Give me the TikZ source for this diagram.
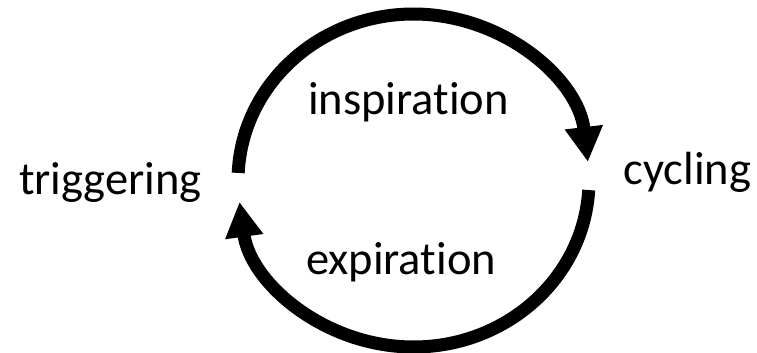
\documentclass[tikz,border=0pt]{standalone}
\usepackage{fontspec}
\setmainfont{Carlito}[Ligatures={NoCommon}]
\usetikzlibrary{arrows.meta, positioning, calc}

\begin{document}
\begin{tikzpicture}[
    x=1pt, y=1pt,
    label/.style={anchor=base, inner sep=0pt, font=\fontsize{46.5}{55}\selectfont},
    loop/.style={line width=13pt, -{Triangle[length=35pt, width=36pt]}}
]
\useasboundingbox (0,0) rectangle (757,353);

% Centre of the cycle and arc ends
\coordinate (ctr) at (413.5,172.5);
\coordinate (insp start) at ($(ctr)+(177.4:175.5 and 166.5)$);
\coordinate (exp start) at ($(ctr)+(-3.3:175.5 and 166.5)$);

% Labels
\node[label] (trig) at (110.5,158) {triggering};
\node[label] (cyc) at (687.5,168) {cycling};
\node[label] (insp) at (408.5,238) {inspiration};
\node[label] (exp) at (401,78) {expiration};

% Arrows
\draw[loop] (insp start) arc[start angle=177.4, end angle=6.4, x radius=175.5, y radius=166.5];
\draw[loop] (exp start) arc[start angle=-3.3, end angle=-172.6, x radius=175.5, y radius=166.5];
\end{tikzpicture}
\end{document}
